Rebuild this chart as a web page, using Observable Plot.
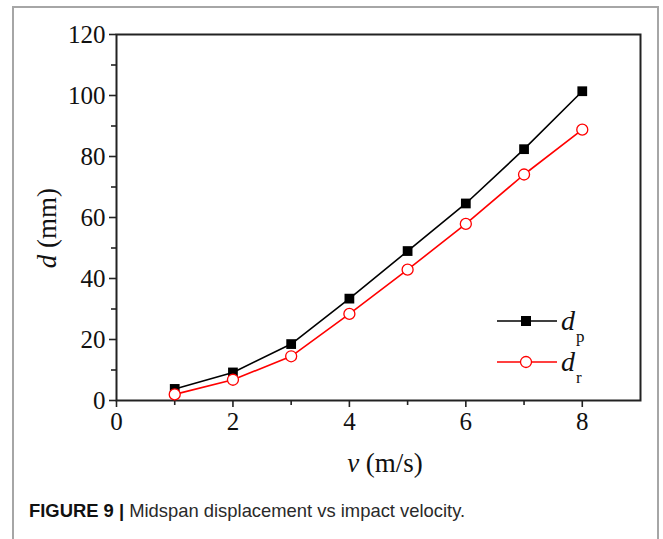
<!DOCTYPE html>
<html>
<head>
<meta charset="utf-8">
<script src="https://cdn.jsdelivr.net/npm/d3@7"></script>
<script src="https://cdn.jsdelivr.net/npm/@observablehq/plot@0.6"></script>
<style>
  html, body { margin: 0; padding: 0; background: #fff; width: 663px; height: 539px; overflow: hidden; }
  #frame { position: absolute; left: 12px; top: 6px; width: 647px; height: 600px; border: 2px solid #a6a6a6; box-sizing: border-box; }
  #chart { position: absolute; left: 0; top: 0; }
  #caption { position: absolute; left: 29px; top: 500px; font-family: "Liberation Sans", Arial, sans-serif; font-size: 18.4px; color: #2a2a2a; white-space: nowrap; }
  #caption b { font-weight: bold; color: #111; }
</style>
</head>
<body>
<div id="frame"></div>
<div id="chart"></div>
<div id="caption"><b>FIGURE 9 |</b> Midspan displacement vs impact velocity.</div>
<script>
const velocity = [1, 2, 3, 4, 5, 6, 7, 8];
const dp = [3.8, 9.2, 18.5, 33.4, 49.0, 64.6, 82.4, 101.4];
const dr = [2.0, 6.8, 14.5, 28.4, 42.9, 57.9, 74.1, 88.8];
const xMajorTicks = [0, 2, 4, 6, 8];
const xMinorTicks = [1, 3, 5, 7];
const yMajorTicks = [0, 20, 40, 60, 80, 100, 120];
const yMinorTicks = [10, 30, 50, 70, 90, 110];

const rowsP = velocity.map((v, i) => ({v, d: dp[i]}));
const rowsR = velocity.map((v, i) => ({v, d: dr[i]}));

const axisColor = "#222";
const plot = Plot.plot({
  width: 663,
  height: 480,
  marginLeft: 116,
  marginRight: 23,
  marginTop: 34,
  marginBottom: 80,
  style: {fontFamily: "'Liberation Serif', 'Times New Roman', serif", fontSize: "24px", color: axisColor, background: "transparent"},
  x: {domain: [0, 9]},
  y: {domain: [0, 120]},
  marks: [
    Plot.axisX({ticks: xMajorTicks, tickSize: 7, tickPadding: 5, tickFormat: d => String(d), label: null, stroke: axisColor, strokeWidth: 1.6, fill: "#111", fontSize: 25}),
    Plot.axisX({ticks: xMinorTicks, tickSize: 5, text: null, label: null, stroke: axisColor, strokeWidth: 1.6}),
    Plot.axisY({ticks: yMajorTicks, tickSize: 7, tickPadding: 4, tickFormat: d => String(d), label: null, stroke: axisColor, strokeWidth: 1.6, fill: "#111", fontSize: 25}),
    Plot.axisY({ticks: yMinorTicks, tickSize: 5, text: null, label: null, stroke: axisColor, strokeWidth: 1.6}),
    Plot.frame({stroke: axisColor, strokeWidth: 2}),
    Plot.line(rowsP, {x: "v", y: "d", stroke: "#000", strokeWidth: 1.6}),
    Plot.line(rowsR, {x: "v", y: "d", stroke: "#ff0000", strokeWidth: 1.6}),
    Plot.dot(rowsP, {x: "v", y: "d", symbol: "square", r: 5.5, fill: "#000", stroke: "none"}),
    Plot.dot(rowsR, {x: "v", y: "d", symbol: "circle", r: 5.5, fill: "#fff", stroke: "#ff0000", strokeWidth: 1.3})
  ]
});
document.getElementById("chart").appendChild(plot);

const svg = d3.select(plot);
const serif = "'Liberation Serif', 'Times New Roman', serif";

// Y axis title
const yt = svg.append("text")
  .attr("transform", "translate(56,228) rotate(-90)")
  .attr("text-anchor", "middle")
  .attr("font-family", serif).attr("font-size", 27).attr("fill", "#111");
yt.append("tspan").attr("font-style", "italic").text("d");
yt.append("tspan").text(" (mm)");

// X axis title
const xt = svg.append("text")
  .attr("x", 385).attr("y", 472)
  .attr("text-anchor", "middle")
  .attr("font-family", serif).attr("font-size", 27).attr("fill", "#111");
xt.append("tspan").attr("font-style", "italic").text("v");
xt.append("tspan").text(" (m/s)");

// Legend
const legend = [
  {name: "p", color: "#000", y: 321, sym: "square"},
  {name: "r", color: "#ff0000", y: 362, sym: "circle"}
];
legend.forEach(l => {
  svg.append("line").attr("x1", 497).attr("x2", 557).attr("y1", l.y).attr("y2", l.y)
    .attr("stroke", l.color).attr("stroke-width", 1.6);
  if (l.sym === "square") {
    svg.append("rect").attr("x", 521).attr("y", l.y - 5).attr("width", 10).attr("height", 10).attr("fill", "#000");
  } else {
    svg.append("circle").attr("cx", 526).attr("cy", l.y).attr("r", 5.5).attr("fill", "#fff")
      .attr("stroke", l.color).attr("stroke-width", 1.3);
  }
  const t = svg.append("text").attr("x", 561).attr("y", l.y + 9)
    .attr("text-anchor", "start")
    .attr("font-family", serif).attr("font-size", 28).attr("fill", "#111");
  t.append("tspan").attr("font-style", "italic").text("d");
  t.append("tspan").attr("font-size", 17).attr("dy", 12).attr("dx", 1).text(l.name);
});
</script>
</body>
</html>
